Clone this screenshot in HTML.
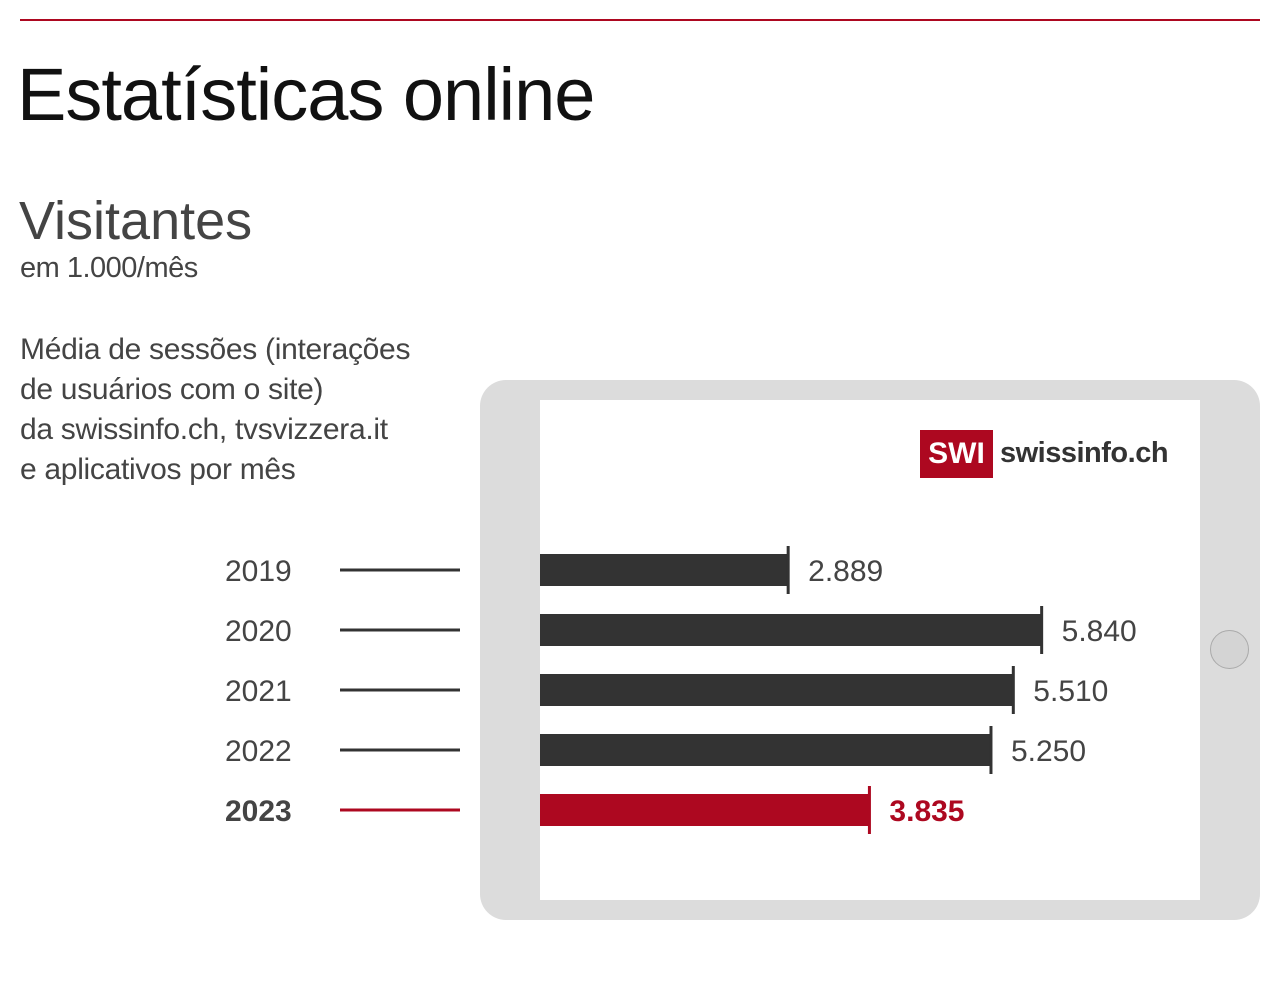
<!DOCTYPE html>
<html><head><meta charset="utf-8"><style>
body{margin:0;width:1280px;height:1000px;background:#fff;font-family:"Liberation Sans",sans-serif;position:relative;overflow:hidden}
.t{position:absolute;white-space:nowrap}
</style></head><body>
<div style="position:absolute;left:20px;top:19px;width:1240px;height:2px;background:#ad0820"></div>
<div class="t" style="left:17px;top:52px;font-size:74px;color:#111;letter-spacing:-1px">Estatísticas online</div>
<div class="t" style="left:19px;top:190px;font-size:54px;color:#444">Visitantes</div>
<div class="t" style="left:20px;top:252px;font-size:29px;color:#444;letter-spacing:-0.5px">em 1.000/mês</div>
<div class="t" style="left:20px;top:330px;font-size:30px;line-height:40px;color:#444;letter-spacing:-0.3px">Média de sessões (interações<br>de usuários com o site)<br>da swissinfo.ch, tvsvizzera.it<br>e aplicativos por mês</div>
<div style="position:absolute;left:480px;top:380px;width:780px;height:540px;border-radius:26px;background:#dcdcdc"></div>
<div style="position:absolute;left:540px;top:400px;width:660px;height:500px;background:#fff"></div>
<div style="position:absolute;left:1210px;top:630px;width:37px;height:37px;border-radius:50%;background:#d4d4d4;border:1.5px solid #aaa"></div>
<div style="position:absolute;left:920px;top:430px;width:73px;height:48px;background:#ad0820;color:#fff;font-weight:bold;font-size:30px;line-height:48px;text-align:center">SWI</div>
<div class="t" style="left:1000px;top:437px;font-size:29px;font-weight:bold;color:#333;letter-spacing:-0.5px">swissinfo.ch</div>
<svg id="chart" width="1280" height="1000" style="position:absolute;left:0;top:0"></svg>
<script>
const years=["2019","2020","2021","2022","2023"];
const values=[2889,5840,5510,5250,3835];
const labels=["2.889","5.840","5.510","5.250","3.835"];
const svg=document.getElementById('chart');
const NS='http://www.w3.org/2000/svg';
const x0=540,scale=0.0859;
function xs(v){return x0+v*scale;}
function yc(i){return 570+i*60;}
function mk(t,a){const e=document.createElementNS(NS,t);for(const k in a)e.setAttribute(k,a[k]);svg.appendChild(e);return e;}
years.forEach((y,i)=>{
 const hi=i===years.length-1;const col=hi?'#ad0820':'#333';const tc=hi?'#ad0820':'#444';
 const yl=mk('text',{x:225,y:yc(i)+11,'font-size':30,fill:hi?'#444':'#444','font-weight':hi?'bold':'normal','font-family':'Liberation Sans, sans-serif'});yl.textContent=y;
 
 
 const ln=mk('rect',{x:340,y:yc(i)-1.5,width:120,height:3,fill:col});
 
 
 const b=mk('rect',{x:x0,y:yc(i)-16,width:xs(values[i])-x0,height:32,fill:col});
 
 
 const tk=mk('rect',{x:xs(values[i])-1.5,y:yc(i)-24,width:3,height:48,fill:col});
 
 
 const vl=mk('text',{x:xs(values[i])+20,y:yc(i)+11,'font-size':30,fill:tc,'font-weight':hi?'bold':'normal','font-family':'Liberation Sans, sans-serif'});vl.textContent=labels[i];
 
 
});
</script>
</body></html>
